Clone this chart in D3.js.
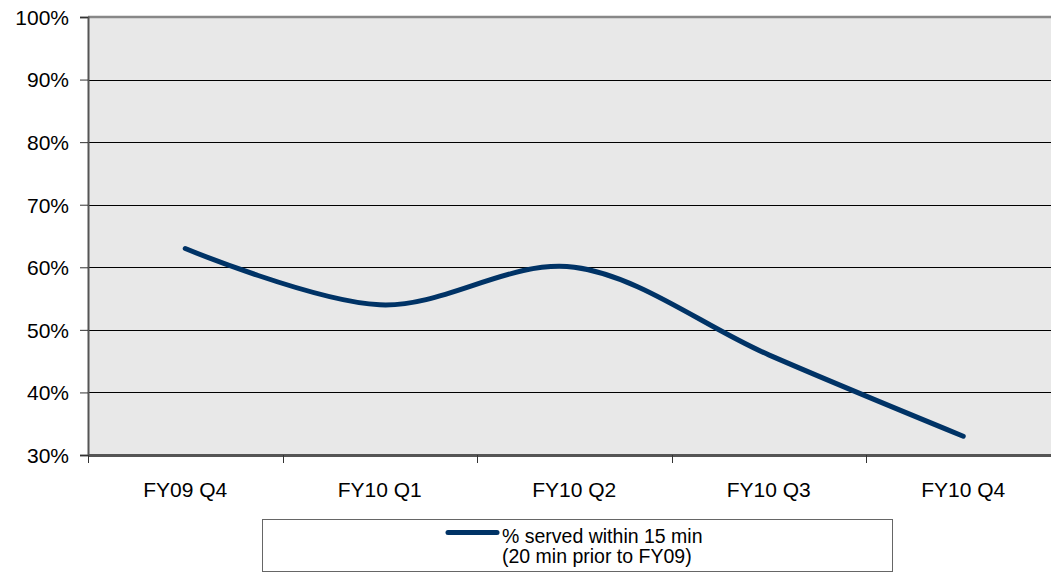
<!DOCTYPE html>
<html><head><meta charset="utf-8">
<script src="https://cdn.jsdelivr.net/npm/d3@7"></script>
<style>body{margin:0;background:#fff;} svg{display:block;font-family:"Liberation Sans",Arial,sans-serif;}</style>
</head><body>
<svg id="c" width="1051" height="573"></svg>
<script>
const categories = ["FY09 Q4","FY10 Q1","FY10 Q2","FY10 Q3","FY10 Q4"];
const values = [63, 54, 60, 46, 33];
const yTicks = [30,40,50,60,70,80,90,100];
const seriesName = ["% served within 15 min","(20 min prior to FY09)"];

const svg = d3.select("#c");
const L = 88, T = 17, B = 455, R = 1060.5;
const x = d3.scaleBand().domain(categories).range([L, R]);
const y = d3.scaleLinear().domain([30,100]).range([B, T]);
const FF = "Liberation Sans, Arial, sans-serif";

svg.append("rect").attr("x",L).attr("y",T).attr("width",1051-L).attr("height",B-T).attr("fill","#e8e8e8");

// gridlines
svg.append("g").selectAll("line").data(yTicks.filter(d=>d>30 && d<100)).join("line")
  .attr("x1",L).attr("x2",1051).attr("y1",d=>Math.round(y(d))+0.5).attr("y2",d=>Math.round(y(d))+0.5)
  .attr("stroke","#000").attr("stroke-width",1);
// top border
svg.append("line").attr("x1",L).attr("x2",1051).attr("y1",T).attr("y2",T).attr("stroke","#888").attr("stroke-width",2.5);

// y axis
const ya = svg.append("g").attr("transform",`translate(${L},0)`)
  .call(d3.axisLeft(y).tickValues(yTicks).tickFormat(d=>d+"%").tickSize(8).tickPadding(11));
ya.select(".domain").attr("stroke","#555").attr("stroke-width",2);
ya.selectAll(".tick line").attr("stroke","#333");
ya.selectAll("text").attr("font-size",21).attr("fill","#000").attr("font-family",FF).attr("dy","0.35em");

// x axis
const xa = svg.append("g").attr("transform",`translate(0,${B})`)
  .call(d3.axisBottom(x).tickSize(0).tickPadding(27));
xa.select(".domain").attr("stroke","#555").attr("stroke-width",3);
xa.selectAll("text").attr("font-size",21).attr("fill","#000").attr("font-family",FF);
const bounds = categories.map(c=>x(c)).concat([x(categories[categories.length-1])+x.bandwidth()]);
svg.append("g").selectAll("line").data(bounds).join("line")
  .attr("x1",d=>Math.round(d)+0.5).attr("x2",d=>Math.round(d)+0.5).attr("y1",B).attr("y2",B+8).attr("stroke","#333");

// line
const line = d3.line().x((d,i)=>x(categories[i])+x.bandwidth()/2).y(d=>y(d)).curve(d3.curveCatmullRom.alpha(0));
svg.append("path").datum(values).attr("d",line).attr("fill","none").attr("stroke","#003366").attr("stroke-width",5).attr("stroke-linecap","round");

// legend
svg.append("rect").attr("x",262.5).attr("y",519.5).attr("width",630).attr("height",52).attr("fill","#fff").attr("stroke","#666").attr("stroke-width",1);
svg.append("line").attr("x1",448).attr("x2",497).attr("y1",532.5).attr("y2",532.5).attr("stroke","#003366").attr("stroke-width",5).attr("stroke-linecap","round");
svg.append("text").attr("x",502).attr("y",543).attr("font-size",19.5).attr("font-family",FF).text(seriesName[0]);
svg.append("text").attr("x",502).attr("y",563).attr("font-size",19.5).attr("font-family",FF).text(seriesName[1]);
</script>
</body></html>
